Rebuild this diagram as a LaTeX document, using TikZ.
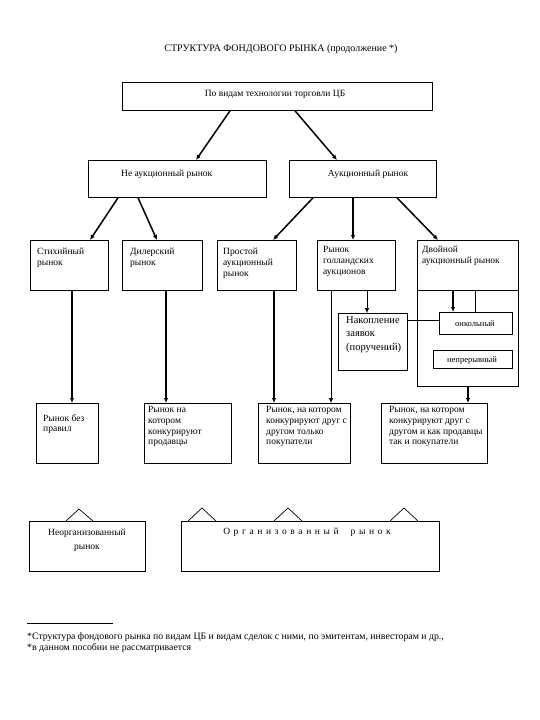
\documentclass[tikz,border=0pt]{standalone}
\usepackage{fontspec}
\setmainfont{Liberation Serif}
\usetikzlibrary{arrows.meta}
\begin{document}
\begin{tikzpicture}[x=1pt,y=-1pt,
  box/.style={draw, line width=0.8pt, inner sep=0pt, anchor=north west},
  lbl/.style={anchor=north west, inner sep=0pt, align=left, font=\fontsize{9.5}{10.8}\selectfont},
  clbl/.style={anchor=base, inner sep=0pt, align=center, font=\fontsize{9.5}{14}\selectfont},
  arr/.style={-{Latex[length=5pt,width=4.5pt]}, line width=1.5pt},
  tarr/.style={-{Latex[length=5pt,width=4.5pt]}, line width=0.7pt},
  tline/.style={line width=0.7pt}]
\useasboundingbox (0,0) rectangle (540,720);
% title
\node[clbl, font=\fontsize{10}{12}\selectfont] (title) at (281,51) {СТРУКТУРА ФОНДОВОГО РЫНКА (продолжение *)};
% boxes
\node[box, minimum width=310pt, minimum height=28pt] (top) at (122,82) {};
\node[box, minimum width=178pt, minimum height=37pt] (neauk) at (88,160) {};
\node[box, minimum width=147pt, minimum height=37pt] (auk) at (289,160) {};
\node[box, minimum width=78pt, minimum height=50pt] (stih) at (30,240) {};
\node[box, minimum width=80pt, minimum height=50pt] (diler) at (122,240) {};
\node[box, minimum width=79pt, minimum height=50pt] (prost) at (217,240) {};
\node[box, minimum width=78pt, minimum height=50pt] (goll) at (317,240) {};
\node[box, minimum width=101pt, minimum height=50pt] (dvoin) at (417,240) {};
\node[box, minimum width=101pt, minimum height=96pt] (dvframe) at (417,290) {};
\node[box, minimum width=69pt, minimum height=57pt] (nakop) at (338,313) {};
\node[box, minimum width=73pt, minimum height=22pt] (onk) at (439,312) {};
\node[box, minimum width=79pt, minimum height=18pt] (nepr) at (433,350) {};
\node[box, minimum width=62pt, minimum height=60pt] (bez) at (36,403) {};
\node[box, minimum width=87pt, minimum height=60pt] (prod) at (144,403) {};
\node[box, minimum width=92pt, minimum height=60pt] (pokup) at (258,403) {};
\node[box, minimum width=106pt, minimum height=60pt] (oba) at (381,403) {};
\node[box, minimum width=116pt, minimum height=50pt] (neorg) at (29,521) {};
\node[box, minimum width=258pt, minimum height=50pt] (org) at (181,521) {};
% labels
\node[clbl] (topt) at (275,96) {По видам технологии торговли ЦБ};
\node[lbl, anchor=base west] (neaukt) at (121,176) {Не аукционный рынок};
\node[clbl] (aukt) at (368,176) {Аукционный рынок};
\node[lbl] (stiht) at (37,248) {Стихийный\\рынок};
\node[lbl] (dilert) at (130,248) {Дилерский\\рынок};
\node[lbl] (prostt) at (223,248) {Простой\\аукционный\\рынок};
\node[lbl] (gollt) at (323,246) {Рынок\\голландских\\аукционов};
\node[lbl] (dvoint) at (422,246) {Двойной\\аукционный рынок};
\node[lbl, font=\fontsize{10.5}{13.5}\selectfont] (nakopt) at (346,316) {Накопление\\заявок\\(поручений)};
\node[clbl, font=\fontsize{8.5}{10}\selectfont] (onkt) at (475,326) {онкольный};
\node[clbl, font=\fontsize{8.5}{10}\selectfont] (neprt) at (472,362) {непрерывный};
\node[lbl] (bezt) at (43,414) {Рынок без\\правил};
\node[lbl] (prodt) at (148,406) {Рынок на\\котором\\конкурируют\\продавцы};
\node[lbl] (pokupt) at (266,406) {Рынок, на котором\\конкурируют друг с\\другом только\\покупатели};
\node[lbl] (obat) at (389,406) {Рынок, на котором\\конкурируют друг с\\другом и как продавцы\\так и покупатели};
\node[clbl, anchor=north] (neorgt) at (87,529) {Неорганизованный\\рынок};
\node[clbl, font=\fontsize{9.5}{12}\selectfont\addfontfeature{LetterSpace=38}] (orgt) at (307,534) {Организованный \ рынок};
% arrows level 1 -> 2
\draw[arr] ([xshift=108pt]top.south west) -- ([xshift=108pt]neauk.north west);
\draw[arr] ([xshift=173pt]top.south west) -- ([xshift=48pt]auk.north west);
% level 2 -> 3
\draw[arr] ([xshift=30pt]neauk.south west) -- ([xshift=60pt]stih.north west);
\draw[arr] ([xshift=50pt]neauk.south west) -- ([xshift=35pt]diler.north west);
\draw[arr] ([xshift=24pt]auk.south west) -- ([xshift=56pt]prost.north west);
\draw[arr] ([xshift=64pt]auk.south west) -- ([xshift=36pt]goll.north west);
\draw[arr] ([xshift=108pt]auk.south west) -- ([xshift=21pt]dvoin.north west);
% level 3 -> 4
\draw[arr] ([xshift=42pt]stih.south west) coordinate (s1) -- (s1 |- bez.north);
\draw[arr] ([xshift=44pt]diler.south west) coordinate (s2) -- (s2 |- prod.north);
\draw[arr] ([xshift=57pt]prost.south west) coordinate (s3) -- (s3 |- pokup.north);
\draw[tarr] ([xshift=14pt]goll.south west) coordinate (s4) -- (s4 |- pokup.north);
\draw[tarr] ([xshift=50pt]goll.south west) coordinate (s5) -- (s5 |- nakop.north);
\draw[arr] ([xshift=36pt]dvoin.south west) coordinate (s6) -- (s6 |- onk.north);
\draw[tline] ([xshift=58pt]dvoin.south west) coordinate (s7) -- (s7 |- onk.north);
\draw[tline] ([yshift=-7pt]nakop.north east) coordinate (s8) -- (s8 -| onk.west);
\draw[arr] ([xshift=51pt]dvframe.south west) coordinate (s9) -- (s9 |- oba.north);
% small triangles on bottom boxes
\draw[tline] ([xshift=37pt]neorg.north west) -- ++(13,-12) -- ++(14,12);
\draw[tline] ([xshift=7pt]org.north west) -- ++(14,-13) -- ++(14,13);
\draw[tline] ([xshift=93pt]org.north west) -- ++(14,-13) -- ++(14,13);
\draw[tline] ([xshift=209pt]org.north west) -- ++(14,-13) -- ++(14,13);
% footnote
\draw[line width=0.6pt] (27,623) coordinate (fr1) -- (113,623) coordinate (fr2);
\node[lbl, font=\fontsize{9.8}{11}\selectfont] (fn) at (27,632) {*Структура фондового рынка по видам ЦБ и видам сделок с ними, по эмитентам, инвесторам и др.,\\*в данном пособии не рассматривается};
\end{tikzpicture}
\end{document}
